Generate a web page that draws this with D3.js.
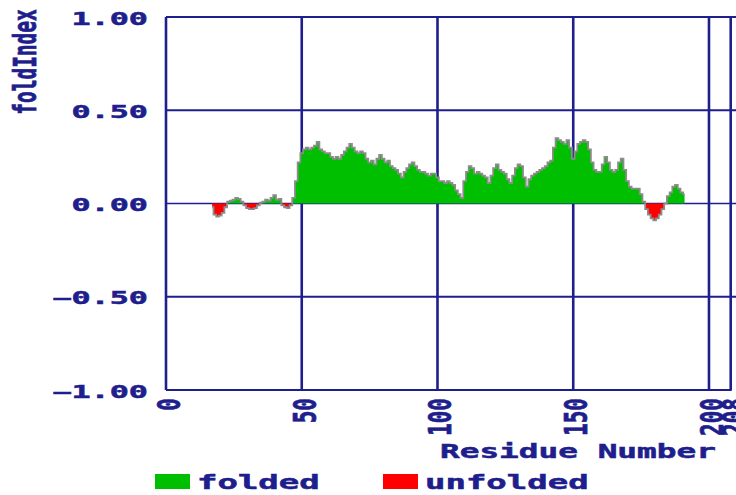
<!DOCTYPE html>
<html>
<head>
<meta charset="utf-8">
<script src="https://cdn.jsdelivr.net/npm/d3@7"></script>
<style>
  body { margin: 0; background: #fff; }
  svg { display: block; }
  text { font-family: "DejaVu Sans Mono", "Liberation Mono", monospace; font-weight: bold; fill: #1e1e8c; stroke: #1e1e8c; stroke-width: 0.5px; }
</style>
</head>
<body>
<svg id="drawing_region"></svg>
<script>
// residue numbers 17..191, one value per residue
const startResidue = 17;
const foldIndex = [
  -0.02, -0.06, -0.07, -0.065, -0.05, -0.02, 0.01, 0.015, 0.02, 0.03,
  0.025, 0.01, -0.01, -0.025, -0.03, -0.03, -0.025, -0.01, 0.005, 0.01,
  0.02, 0.015, 0.03, 0.045, 0.02, 0.025, -0.01, -0.02, -0.025, -0.01,
  0.03, 0.12, 0.22, 0.27, 0.29, 0.30, 0.29, 0.30, 0.31, 0.33,
  0.29, 0.28, 0.27, 0.27, 0.25, 0.24, 0.25, 0.24, 0.26, 0.28,
  0.30, 0.32, 0.30, 0.28, 0.27, 0.28, 0.27, 0.24, 0.22, 0.23,
  0.21, 0.24, 0.26, 0.24, 0.22, 0.23, 0.20, 0.19, 0.18, 0.16,
  0.14, 0.17, 0.19, 0.21, 0.22, 0.20, 0.18, 0.17, 0.17, 0.16,
  0.15, 0.16, 0.16, 0.14, 0.12, 0.12, 0.11, 0.12, 0.11, 0.10,
  0.07, 0.05, 0.03, 0.12, 0.17, 0.20, 0.19, 0.16, 0.17, 0.16,
  0.15, 0.14, 0.11, 0.15, 0.19, 0.21, 0.18, 0.17, 0.16, 0.13,
  0.11, 0.15, 0.19, 0.21, 0.20, 0.14, 0.09, 0.13, 0.15, 0.16,
  0.17, 0.18, 0.19, 0.20, 0.22, 0.23, 0.30, 0.35, 0.34, 0.33,
  0.32, 0.34, 0.30, 0.24, 0.28, 0.32, 0.33, 0.34, 0.33, 0.29,
  0.22, 0.18, 0.17, 0.17, 0.21, 0.25, 0.22, 0.18, 0.17, 0.18,
  0.22, 0.24, 0.18, 0.12, 0.09, 0.08, 0.08, 0.08, 0.05, 0.01,
  -0.03, -0.06, -0.08, -0.09, -0.08, -0.06, -0.03, 0.0, 0.04, 0.06,
  0.09, 0.10, 0.08, 0.06, 0.05
];

const xTicks = [0, 50, 100, 150, 200, 208];
const yTicks = [1, 0.5, 0, -0.5, -1];
const legendItems = ["folded", "unfolded"];
const legendColors = ["#00bf00", "#ff0000"];

const width = 736, height = 495;
const navy = "#1e1e8c";

const svg = d3.select("#drawing_region")
    .attr("width", width)
    .attr("height", height);

const xscale = d3.scaleLinear().domain([0, 208]).range([166, 730.7]);
const yscale = d3.scaleLinear().domain([-1, 1]).range([390, 17]);

const data = foldIndex.map((v, i) => ({ r: startResidue + i, v: v }));

// horizontal grid lines (run out to the right edge)
svg.append("g").selectAll("line")
    .data(yTicks)
    .join("line")
    .attr("x1", xscale(0))
    .attr("x2", d => d === -1 ? xscale(208) + 1 : width)
    .attr("y1", d => yscale(d))
    .attr("y2", d => yscale(d))
    .attr("stroke", navy)
    .attr("stroke-width", d => d === 0 ? 1.3 : 2.2);

// vertical grid lines
svg.append("g").selectAll("line")
    .data(xTicks)
    .join("line")
    .attr("x1", d => xscale(d))
    .attr("x2", d => xscale(d))
    .attr("y1", yscale(1))
    .attr("y2", yscale(-1))
    .attr("stroke", navy)
    .attr("stroke-width", 2.6);

// folded / unfolded areas
const areaPos = d3.area()
    .curve(d3.curveStep)
    .x(d => xscale(d.r))
    .y0(yscale(0))
    .y1(d => yscale(Math.max(0, d.v)));
const areaNeg = d3.area()
    .curve(d3.curveStep)
    .x(d => xscale(d.r))
    .y0(yscale(0))
    .y1(d => yscale(Math.min(0, d.v)));

svg.append("path").datum(data)
    .attr("d", areaPos)
    .attr("fill", legendColors[0]);
svg.append("path").datum(data)
    .attr("d", areaNeg)
    .attr("fill", legendColors[1]);

svg.append("path").datum(data)
    .attr("d", d3.line().curve(d3.curveStep).x(d => xscale(d.r)).y(d => yscale(d.v)))
    .attr("fill", "none")
    .attr("stroke", "#8c8c8c")
    .attr("stroke-width", 1.8);

// y axis labels
const yaxis = d3.axisLeft(yscale)
    .tickValues(yTicks)
    .tickSize(0)
    .tickFormat(d3.format(".2f"));
const yaxis_group = svg.append("g")
    .attr("transform", `translate(${xscale(0)},0)`)
    .call(yaxis);
yaxis_group.select(".domain").remove();
yaxis_group.selectAll("text")
    .attr("x", 0).attr("dy", null)
    .attr("font-family", null)
    .attr("fill", navy)
    .style("font-size", "17px")
    .attr("text-anchor", "end")
    .attr("transform", "translate(-18,7) scale(1.87,1)")
    .text(d => d3.format(".2f")(d).replace("-", "\u2212"));

// x axis labels (rotated)
const xaxis = d3.axisBottom(xscale)
    .tickValues(xTicks)
    .tickSize(0)
    .tickFormat(d3.format("d"));
const xaxis_group = svg.append("g")
    .attr("transform", `translate(0,${yscale(-1)})`)
    .call(xaxis);
xaxis_group.select(".domain").remove();
xaxis_group.selectAll("text")
    .attr("y", 0).attr("dy", "0.36em")
    .attr("font-family", null)
    .attr("fill", navy)
    .style("font-size", "21px")
    .attr("text-anchor", "end")
    .attr("transform", "translate(2,8) scale(1.5,1) rotate(-90)");

// axis titles
svg.append("text")
    .attr("transform", "translate(25,62) scale(1.6,1) rotate(-90)")
    .attr("dy", "0.36em")
    .attr("text-anchor", "middle")
    .style("font-size", "19.5px")
    .text("foldIndex");

svg.append("text")
    .attr("transform", "translate(440,458) scale(1.68,1)")
    .style("font-size", "19.5px")
    .text("Residue Number");

// legend
const legendX = [155, 383];
const legend = svg.append("g").selectAll("g")
    .data(legendItems)
    .join("g")
    .attr("transform", (d, i) => `translate(${legendX[i]},474)`);
legend.append("rect")
    .attr("width", 35).attr("height", 15)
    .attr("fill", (d, i) => legendColors[i]);
legend.append("text")
    .attr("transform", "translate(42,15) scale(1.7,1)")
    .style("font-size", "20px")
    .text(d => d);
</script>
</body>
</html>
